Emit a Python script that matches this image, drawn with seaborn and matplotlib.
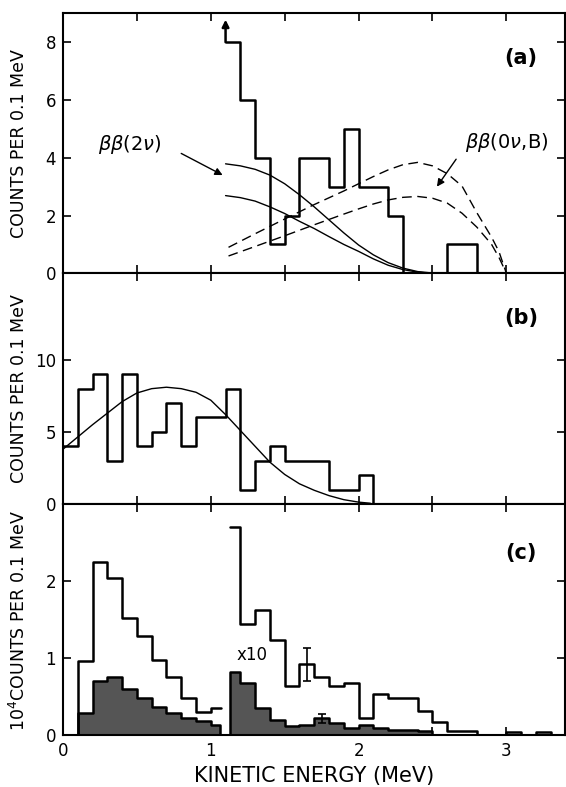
import numpy as np
import matplotlib
matplotlib.use("Agg")
import matplotlib.pyplot as plt
import seaborn as sns

# ---- panel (a): counts per 0.1 MeV above 1.1 MeV ----
a_edges = [1.1, 1.2, 1.3, 1.4, 1.5, 1.6, 1.7, 1.8, 1.9, 2.0, 2.1, 2.2, 2.3,
           2.4, 2.5, 2.6, 2.7, 2.8]
a_counts = [8, 6, 4, 1, 2, 4, 4, 3, 5, 3, 3, 2, 0, 0, 0, 1, 1]

# two-neutrino curves (solid)
a_2nu_x = [1.10, 1.20, 1.30, 1.40, 1.50, 1.60, 1.70, 1.80, 1.90, 2.00, 2.10,
           2.20, 2.30, 2.40, 2.50, 2.55]
a_2nu_hi = [3.79, 3.72, 3.60, 3.40, 3.10, 2.72, 2.30, 1.85, 1.40, 0.98, 0.64,
            0.37, 0.18, 0.06, 0.01, 0.0]
a_2nu_lo = [2.69, 2.62, 2.50, 2.30, 2.07, 1.80, 1.55, 1.27, 1.00, 0.76, 0.50,
            0.28, 0.13, 0.04, 0.0, 0.0]

# neutrinoless / majoron curves (dashed)
a_0nu_x = [1.12, 1.30, 1.50, 1.70, 1.90, 2.00, 2.10, 2.20, 2.30, 2.40, 2.50,
           2.60, 2.70, 2.80, 2.90, 2.95, 3.00]
a_0nu_hi = [0.90, 1.37, 1.88, 2.38, 2.85, 3.10, 3.35, 3.58, 3.76, 3.84, 3.72,
            3.45, 3.02, 2.10, 1.25, 0.75, 0.0]
a_0nu_lo = [0.60, 0.93, 1.30, 1.68, 2.05, 2.23, 2.40, 2.54, 2.63, 2.66, 2.60,
            2.43, 2.08, 1.60, 1.00, 0.55, 0.0]

# ---- panel (b) ----
b_edges = [0.0, 0.1, 0.2, 0.3, 0.4, 0.5, 0.6, 0.7, 0.8, 0.9, 1.0, 1.1, 1.2,
           1.3, 1.4, 1.5, 1.6, 1.7, 1.8, 1.9, 2.0, 2.1]
b_counts = [4, 8, 9, 3, 9, 4, 5, 7, 4, 6, 6, 8, 1, 3, 4, 3, 3, 3, 1, 1, 2]
b_fit_x = [0.0, 0.1, 0.2, 0.3, 0.4, 0.5, 0.6, 0.7, 0.8, 0.9, 1.0, 1.1, 1.2,
           1.3, 1.4, 1.5, 1.6, 1.7, 1.8, 1.9, 2.0, 2.08]
b_fit_y = [3.8, 4.65, 5.5, 6.3, 7.1, 7.7, 8.0, 8.1, 8.0, 7.75, 7.2, 6.2, 5.1,
           4.0, 2.9, 2.05, 1.4, 0.95, 0.58, 0.3, 0.13, 0.05]

# ---- panel (c): 10^4 counts per 0.1 MeV ----
c_lo_edges = [0.1, 0.2, 0.3, 0.4, 0.5, 0.6, 0.7, 0.8, 0.9, 1.0, 1.07]
c_lo_open = [0.97, 2.25, 2.04, 1.52, 1.29, 0.98, 0.75, 0.49, 0.30, 0.36]
c_lo_shade_edges = [0.1, 0.2, 0.3, 0.4, 0.5, 0.6, 0.7, 0.8, 0.9, 1.0, 1.06]
c_lo_shade = [0.29, 0.70, 0.76, 0.60, 0.49, 0.37, 0.29, 0.22, 0.18, 0.14]

c_hi_edges = [1.13, 1.2, 1.3, 1.4, 1.5, 1.6, 1.7, 1.8, 1.9, 2.0, 2.1, 2.2,
              2.3, 2.4, 2.5, 2.6, 2.7, 2.8, 2.9, 3.0, 3.1, 3.2, 3.3, 3.4]
c_hi_open = [2.70, 1.44, 1.62, 1.24, 0.64, 0.92, 0.76, 0.64, 0.68, 0.23, 0.54,
             0.48, 0.48, 0.32, 0.17, 0.05, 0.05, 0.0, 0.0, 0.04, 0.0, 0.04, 0.0]
c_hi_shade_edges = [1.13, 1.2, 1.3, 1.4, 1.5, 1.6, 1.7, 1.8, 1.9, 2.0, 2.1,
                    2.2, 2.3, 2.4, 2.5]
c_hi_shade = [0.82, 0.68, 0.35, 0.20, 0.125, 0.14, 0.22, 0.16, 0.09, 0.13,
              0.09, 0.07, 0.075, 0.055]

c_err_x = [1.65, 1.75]
c_err_y = [0.92, 0.22]
c_err = [0.21, 0.06]

sns.set_style("ticks")
plt.rcParams['font.family'] = ['DejaVu Sans']
plt.rcParams['mathtext.fontset'] = 'dejavusans'
for key in ('text.color', 'axes.labelcolor', 'xtick.color', 'ytick.color',
            'axes.edgecolor'):
    plt.rcParams[key] = 'black'

fig = plt.figure(figsize=(5.66, 7.87), dpi=100)
left, width = 0.1113, 0.8878
ax_a = fig.add_axes([left, 0.6527, width, 0.3304])
ax_b = fig.add_axes([left, 0.3596, width, 0.2931])
ax_c = fig.add_axes([left, 0.0657, width, 0.2939])

HIST_LW = 1.8
CURVE_LW = 1.0
DASH = (0, (7, 4))


def steps(ax, edges, vals, start_zero=False, end_zero=False, lw=HIST_LW):
    x = list(edges)
    y = list(vals) + [vals[-1]]
    if end_zero:
        y[-1] = 0
    if start_zero:
        x = [edges[0]] + x
        y = [0] + y
    sns.lineplot(x=x, y=y, ax=ax, estimator=None, sort=False,
                 drawstyle='steps-post', color='black', lw=lw)


def shaded(ax, edges, vals):
    centers = [(edges[i] + edges[i + 1]) / 2 for i in range(len(vals))]
    sns.histplot(x=centers, weights=vals, bins=edges, element='step',
                 fill=True, color='#555555', alpha=1, edgecolor='black',
                 linewidth=HIST_LW, ax=ax)


# panel (a)
steps(ax_a, a_edges, a_counts, end_zero=True)
ax_a.annotate('', xy=(1.1, 8.78), xytext=(1.1, 8.0),
              arrowprops=dict(arrowstyle='-|>', color='black', lw=HIST_LW,
                              mutation_scale=10, shrinkA=0, shrinkB=0))
sns.lineplot(x=a_2nu_x, y=a_2nu_hi, ax=ax_a, color='black', lw=CURVE_LW)
sns.lineplot(x=a_2nu_x, y=a_2nu_lo, ax=ax_a, color='black', lw=CURVE_LW)
sns.lineplot(x=a_0nu_x, y=a_0nu_hi, ax=ax_a, color='black', lw=CURVE_LW,
             linestyle=DASH)
sns.lineplot(x=a_0nu_x, y=a_0nu_lo, ax=ax_a, color='black', lw=CURVE_LW,
             linestyle=DASH)
ax_a.text(0.45, 4.45, r'$\beta\beta$(2$\nu$)', fontsize=14, ha='center',
          va='center')
ax_a.annotate('', xy=(1.08, 3.4), xytext=(0.8, 4.15),
              arrowprops=dict(arrowstyle='-|>', color='black', lw=1.0,
                              mutation_scale=11, shrinkA=0, shrinkB=0))
ax_a.text(3.0, 4.53, r'$\beta\beta$(0$\nu$,B)', fontsize=14, ha='center',
          va='center')
ax_a.annotate('', xy=(2.53, 3.0), xytext=(2.66, 3.95),
              arrowprops=dict(arrowstyle='-|>', color='black', lw=1.0,
                              mutation_scale=11, shrinkA=0, shrinkB=0))
ax_a.text(3.1, 7.45, '(a)', fontsize=15, fontweight='bold', ha='center',
          va='center')
ax_a.set_ylim(0, 9)
ax_a.set_yticks([0, 2, 4, 6, 8])

# panel (b)
steps(ax_b, b_edges, b_counts, end_zero=True)
sns.lineplot(x=b_fit_x, y=b_fit_y, ax=ax_b, color='black', lw=CURVE_LW)
ax_b.text(3.1, 12.9, '(b)', fontsize=15, fontweight='bold', ha='center',
          va='center')
ax_b.set_ylim(0, 16)
ax_b.set_yticks([0, 5, 10])

# panel (c)
steps(ax_c, c_lo_edges, c_lo_open, start_zero=True)
steps(ax_c, c_hi_edges, c_hi_open)
shaded(ax_c, c_lo_shade_edges, c_lo_shade)
shaded(ax_c, c_hi_shade_edges, c_hi_shade)
ax_c.errorbar(c_err_x, c_err_y, yerr=c_err, fmt='none', ecolor='black',
              elinewidth=1.2, capsize=3, capthick=1.2)
ax_c.text(1.28, 1.04, 'x10', fontsize=12, ha='center', va='center')
ax_c.text(3.1, 2.36, '(c)', fontsize=15, fontweight='bold', ha='center',
          va='center')
ax_c.set_ylim(0, 3)
ax_c.set_yticks([0, 1, 2])
ax_c.set_xlabel('KINETIC ENERGY (MeV)', fontsize=15, labelpad=4)

for ax in (ax_a, ax_b, ax_c):
    ax.set_xlim(0, 3.4)
    ax.set_xticks([0, 1, 2, 3])
    ax.set_xticks([0.5, 1.5, 2.5], minor=True)
    ax.set_ylabel('')
    ax.tick_params(which='both', direction='in', top=True, right=True,
                   length=6, width=1.2, labelsize=12, pad=5)
    for s in ax.spines.values():
        s.set_linewidth(1.5)
    if ax is not ax_c:
        ax.tick_params(labelbottom=False)

fig.text(0.034, 0.818, 'COUNTS PER 0.1 MeV', rotation=90, fontsize=12.5,
         ha='center', va='center')
fig.text(0.034, 0.506, 'COUNTS PER 0.1 MeV', rotation=90, fontsize=12.5,
         ha='center', va='center')
fig.text(0.034, 0.212, r'10$^4$COUNTS PER 0.1 MeV', rotation=90,
         fontsize=12.5, ha='center', va='center')

fig.savefig('out.png', dpi=100)
